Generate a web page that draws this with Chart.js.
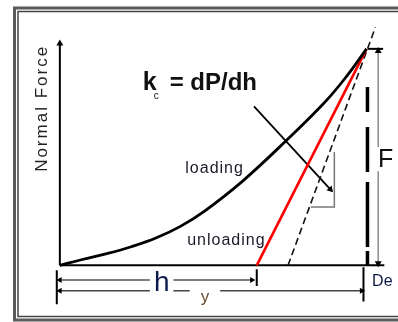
<!DOCTYPE html>
<html>
<head>
<meta charset="utf-8">
<script src="https://cdn.jsdelivr.net/npm/chart.js@4.4.0/dist/chart.umd.min.js"></script>
<style>
  html, body { margin: 0; padding: 0; background: #fff; }
  #wrap { width: 398px; height: 322px; }
</style>
</head>
<body>
<div id="wrap"><canvas id="indentChart" width="398" height="322"></canvas></div>
<script>
// depth h and normal force P, both as % of the maximum
var loadDepth = [0, 7.3, 15.3, 23.3, 31.3, 39.3, 47.3, 59.4, 73.5, 86.3, 93.6, 100];
var loadForce = [0, 2.7, 5.4, 8.6, 12.6, 18.0, 25.2, 38.7, 57.2, 75.2, 87.5, 100];
var unloadDepth = [64.2, 100];
var unloadForce = [0, 100];
var tangentDepth = [74.4, 102.9];
var tangentForce = [0, 110];

// construction lines of the sketch
var yAxisDepth = [0, 0];
var yAxisForce = [0, 102.5];
var xAxisDepth = [0, 105.8];
var xAxisForce = [0, 0];
var maxDepthLine = [100.3, 100.3];
var maxDepthForce = [82.4, 0];
var fArrowDepth = [103.8, 103.8];
var fArrowForce = [99, 1];
var capDepth = [100.4, 105.4];
var capForce = [100, 100];
var pointerDepth = [63.3, 88.2];
var pointerForce = [73.4, 35.1];
var slopeDepth = [89.5, 89.5, 81.8];
var slopeForce = [52.3, 27.0, 27.0];

// dimension lines under the axis
var hLineDepth = [0, 62.6];
var hLineLevel = [-6.8, -6.8];
var yLineDepth = [0, 98.4];
var yLineLevel = [-11.7, -11.7];
var tickDepth = [-1.0, 64.2, 99.0];
var tickTop = [-2.3, -1.8, -0.9];
var tickBottom = [-18.0, -9.5, -16.7];

function pts(xs, ys) {
  return xs.map(function (x, i) { return { x: x, y: ys[i] }; });
}

function seg(xs, ys, color, width, extra) {
  var ds = {
    data: pts(xs, ys),
    borderColor: color,
    borderWidth: width,
    pointRadius: 0,
    tension: 0,
    fill: false,
    clip: false
  };
  for (var k in extra) ds[k] = extra[k];
  return ds;
}

var datasets = [
  seg(loadDepth, loadForce, '#000', 2.8, { tension: 0.4 }),
  seg(unloadDepth, unloadForce, '#ff0000', 2.6),
  seg(tangentDepth, tangentForce, '#111', 1.6, { borderDash: [7, 4] }),
  seg(yAxisDepth, yAxisForce, '#000', 2, {
    pointStyle: 'triangle', pointRadius: [0, 4], pointRotation: [0, 0],
    pointBackgroundColor: '#000', pointBorderWidth: 0
  }),
  seg(xAxisDepth, xAxisForce, '#000', 2),
  seg(maxDepthLine, maxDepthForce, '#000', 3.5, { borderDash: [25, 15, 45, 10, 65, 4, 40] }),
  seg(fArrowDepth, fArrowForce, '#8a8a8a', 1.5, {
    pointStyle: 'triangle', pointRadius: 4, pointRotation: [0, 180],
    pointBackgroundColor: '#000', pointBorderWidth: 0
  }),
  seg(capDepth, capForce, '#000', 2),
  seg(pointerDepth, pointerForce, '#000', 1.8, {
    pointStyle: 'triangle', pointRadius: [0, 4], pointRotation: [0, 138],
    pointBackgroundColor: '#000', pointBorderWidth: 0
  }),
  seg(slopeDepth, slopeForce, '#777', 1.5),
  seg(hLineDepth, hLineLevel, '#555', 1.5, {
    pointStyle: 'triangle', pointRadius: 3.5, pointRotation: [270, 90],
    pointBackgroundColor: '#000', pointBorderWidth: 0
  }),
  seg(yLineDepth, yLineLevel, '#444', 1.5, {
    pointStyle: 'triangle', pointRadius: 3.5, pointRotation: [270, 90],
    pointBackgroundColor: '#000', pointBorderWidth: 0
  })
];

tickDepth.forEach(function (d, i) {
  datasets.push(seg([d, d], [tickTop[i], tickBottom[i]], '#000', 2));
});

var framePlugin = {
  id: 'frame',
  beforeDraw: function (chart) {
    var ctx = chart.ctx;
    ctx.save();
    ctx.fillStyle = '#fff';
    ctx.fillRect(0, 0, chart.width, chart.height);
    ctx.strokeStyle = '#5a5a5a';
    ctx.lineWidth = 3;
    ctx.strokeRect(14.5, 8, 400, 312);
    ctx.strokeStyle = '#444';
    ctx.lineWidth = 1.5;
    ctx.strokeRect(18, 11.5, 400, 305);
    ctx.restore();
  }
};

var labelPlugin = {
  id: 'sketchLabels',
  afterDatasetsDraw: function (chart) {
    var ctx = chart.ctx;
    var xs = chart.scales.x, ys = chart.scales.y;
    var px = function (v) { return xs.getPixelForValue(v); };
    var py = function (v) { return ys.getPixelForValue(v); };
    var font = '"Liberation Sans", Arial, sans-serif';

    function boxed(text, x, y, f, color, pad) {
      ctx.font = f;
      var w = ctx.measureText(text).width;
      ctx.fillStyle = '#fff';
      ctx.fillRect(x - w / 2 - pad, y - 13, w + 2 * pad, 24);
      ctx.fillStyle = color;
      ctx.textAlign = 'center';
      ctx.textBaseline = 'middle';
      ctx.fillText(text, x, y);
    }

    ctx.save();

    // axis title
    ctx.save();
    ctx.translate(px(-5.75), py(72.5));
    ctx.rotate(-Math.PI / 2);
    ctx.font = '17px ' + font;
    ctx.letterSpacing = '2px';
    ctx.fillStyle = '#222';
    ctx.textAlign = 'center';
    ctx.textBaseline = 'middle';
    ctx.fillText('Normal Force', 0, 0);
    ctx.restore();

    // kc = dP/dh
    var kx = px(27.0), ky = py(81.1);
    ctx.fillStyle = '#111';
    ctx.textAlign = 'left';
    ctx.textBaseline = 'alphabetic';
    ctx.font = 'bold 25px ' + font;
    ctx.fillText('k', kx, ky);
    ctx.font = '10px ' + font;
    ctx.fillText('c', kx + 11, ky + 9);
    ctx.font = 'bold 24px ' + font;
    ctx.fillText('= dP/dh', kx + 27, ky);

    // curve names
    ctx.font = '16px ' + font;
    ctx.letterSpacing = '1px';
    ctx.fillStyle = '#1a1a2a';
    ctx.fillText('loading', px(40.9), py(42.8));
    ctx.fillText('unloading', px(41.5), py(9.5));
    ctx.letterSpacing = '0px';

    // dimension letters
    boxed('F', px(106.2), py(48.6), '25px ' + font, '#111', 1);
    boxed('h', px(33.2), py(-8.3), '28px ' + font, '#0b1a4a', 4);
    boxed('y', px(47.3), py(-14.8), '17px ' + font, '#6a4a2a', 11);

    ctx.font = '16px ' + font;
    ctx.fillStyle = '#0b1a4a';
    ctx.textAlign = 'left';
    ctx.textBaseline = 'middle';
    ctx.fillText('De', px(101.8), py(-7.7));

    ctx.restore();
  }
};

var ctx = document.getElementById('indentChart').getContext('2d');
var chart = new Chart(ctx, {
  type: 'line',
  data: { datasets: datasets },
  options: {
    responsive: false,
    animation: false,
    events: [],
    layout: { padding: 0 },
    plugins: {
      legend: { display: false },
      tooltip: { enabled: false }
    },
    scales: {
      x: { type: 'linear', display: false, min: -18.21, max: 108.95 },
      y: { type: 'linear', display: false, min: -24.32, max: 120.72 }
    }
  },
  plugins: [framePlugin, labelPlugin]
});
</script>
</body>
</html>
